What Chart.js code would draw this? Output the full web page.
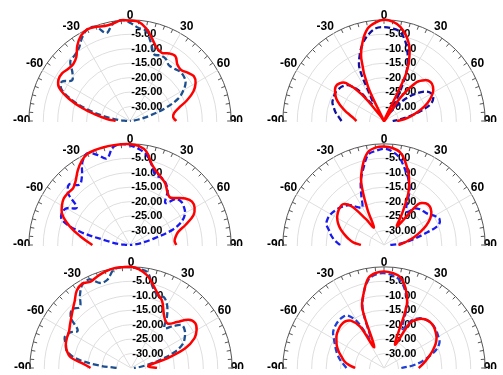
<!DOCTYPE html>
<html>
<head>
<meta charset="utf-8">
<script src="https://cdn.jsdelivr.net/npm/chart.js@4.4.1/dist/chart.umd.min.js"></script>
<style>
body { margin: 0; background: #fff; width: 503px; height: 375px; overflow: hidden; position: relative; }
.panel { position: absolute; overflow: hidden; }
.panel canvas { position: absolute; }
</style>
</head>
<body>
<div class="panel" id="p1"><canvas width="234" height="234"></canvas></div>
<div class="panel" id="p2"><canvas width="234" height="234"></canvas></div>
<div class="panel" id="p3"><canvas width="234" height="234"></canvas></div>
<div class="panel" id="p4"><canvas width="234" height="234"></canvas></div>
<div class="panel" id="p5"><canvas width="234" height="234"></canvas></div>
<div class="panel" id="p6"><canvas width="234" height="234"></canvas></div>
<script>
// angles in degrees, -90 .. 90 every 5
const angles = [-90,-85,-80,-75,-70,-65,-60,-55,-50,-45,-40,-35,-30,-25,-20,-15,-10,-5,0,5,10,15,20,25,30,35,40,45,50,55,60,65,70,75,80,85,90];
const angleLabels = [-90, -60, -30, 0, 30, 60, 90];
const radialMin = -35;
const radialMax = 0;

// values in dB
const p1Red  = [-30,-27,-23.3,-18,-12.5,-8,-6.4,-6.3,-7,-7.2,-6.1,-3.2,-1,0,-0.3,-1,-0.8,0,-0.3,-0.6,-2.5,-5.5,-8,-9,-8,-7.6,-9.5,-10,-9,-8,-8.8,-10.8,-14,-17.5,-19.5,-20,-19];
const p1Blue = [-34,-31,-26.5,-20,-13.5,-8.8,-7.8,-10.5,-9,-5.8,-5.3,-4.2,-1.8,0,-0.3,-3.5,-0.8,0,-1,-2.6,-3.3,-7,-10.5,-10,-10.2,-11.5,-11.3,-10.7,-10.8,-11.5,-13.6,-16.5,-22,-28,-32,-34,-35];
const p2Red  = [-25.5,-24.5,-23,-21,-18.8,-16.8,-15.5,-14.5,-14.8,-16.5,-23,-33,-35,-22,-12,-6.5,-2.5,-0.8,0,-0.5,-2,-4.8,-9,-17,-35,-25,-17.5,-15,-14,-14.3,-15.5,-17.5,-20,-23,-25.5,-28,-30.5];
const p2Blue = [-20.3,-19.3,-18,-17,-16,-15.8,-15.5,-15.8,-16.3,-17.5,-21,-28,-27,-15,-10.5,-7,-4.5,-2.8,-2.5,-2.8,-3.6,-6.5,-11,-17,-26,-31,-28,-23.5,-20,-17.2,-16,-16.2,-17.8,-22,-26.5,-30,-32];
const p3Red  = [-22,-20,-17.5,-14.5,-11.5,-9,-7.8,-7,-7,-7.2,-5.8,-3.5,-1.5,-0.2,0,0,0,0,-0.1,-0.6,-2.2,-6,-8,-9.3,-10.5,-12.5,-13.5,-12,-10,-8.8,-9.2,-10.8,-14.5,-17.8,-19,-19.5,-19];
const p3Blue = [-34,-31,-27,-17,-10,-8.9,-9.6,-12.5,-7,-5.3,-7.8,-6,-2,0,-1.8,-4,-0.7,0,-0.5,-1.6,-3.1,-6.2,-9.3,-9.3,-10.3,-12.3,-16,-12.5,-11.8,-12.2,-13,-15,-19,-26.5,-31,-33.5,-35];
const p4Red  = [-27,-24.3,-22.5,-20.8,-19,-17.5,-16.3,-15.5,-15,-15,-17.5,-24,-28,-21.5,-12,-6.5,-2.5,-1.2,-0.9,-1.3,-2.5,-5.8,-9.8,-15,-22.5,-27,-16.5,-14.6,-14.3,-15,-16.5,-18.8,-21.5,-24,-26.5,-28.5,-30];
const p4Blue = [-19.8,-18,-16.5,-15.3,-13.8,-13.5,-13.7,-14.3,-15,-15.8,-17,-19,-20,-16.5,-11.5,-7.5,-3.3,-2.3,-1.7,-2.5,-4.3,-7.5,-10.5,-14,-19.5,-21,-18.5,-17.5,-17,-16.3,-14.8,-13.8,-15,-21,-25.5,-29,-33];
const p5Red  = [-21,-18.5,-13.8,-12,-11,-10.5,-10.2,-9.2,-8,-6.5,-4.7,-2.3,-1.3,-2,-1.2,-0.5,0,0,0,-0.8,-2.5,-5.3,-7.8,-9.5,-12.5,-14.5,-15,-12.5,-9,-7.9,-8.8,-10.8,-15,-22,-28,-29,-26];
const p5Blue = [-30,-23,-15.5,-12,-11,-9.7,-10.5,-12.5,-7.8,-6.2,-7.5,-4.2,-1.5,-1.2,-3.7,-3.4,-0.5,0,-0.2,-0.6,-1.5,-6,-8.2,-8,-10,-13.3,-17,-14.5,-12,-12.3,-13.5,-15.2,-19,-25,-30,-32.5,-34];
const p6Red  = [-25,-22.8,-21,-19.8,-18.3,-17,-16,-15,-14.4,-14,-14,-15,-18.5,-27,-13,-8,-3.5,-2,-1.6,-2,-3,-6.3,-12,-26,-17,-14.4,-13,-12.5,-12.6,-13.2,-14,-15.3,-17,-18.7,-20.3,-21.7,-23];
const p6Blue = [-22,-21,-19.7,-18.5,-17.4,-16.3,-15,-13.5,-12.8,-12.4,-12.3,-12.8,-16.5,-24,-13.5,-8,-4,-2.5,-2.2,-2.8,-4,-7,-11.5,-20,-16,-14,-13,-12.5,-12.5,-12.8,-13.3,-13.8,-15.5,-18.5,-21.5,-25,-29];

const fontFamily = "'Liberation Sans', Arial, sans-serif";
const meas = document.createElement('canvas').getContext('2d');
meas.font = 'bold 11px ' + fontFamily;

// radar labels run round the full circle in 5 degree steps, top = 0, clockwise
let labels = [];
for (let i = 0; i < 72; i++) {
	let a = i * 5;
	if (a > 180) a -= 360;
	labels.push(String(a));
}

function fullCircle(values) {
	return labels.map(function (l) {
		let k = angles.indexOf(Number(l));
		return k < 0 ? null : values[k];
	});
}

function shiftRight(s) {
	// radial tick text is centred on the axis; lead with spaces so it starts just right of it
	let w = meas.measureText(s).width;
	let sp = meas.measureText(' ').width;
	return ' '.repeat(Math.round((w + 2) / sp)) + s;
}

function isUpper(i) {
	let a = Number(labels[i]);
	return a >= -90 && a <= 90;
}

function isMajor(i) {
	let a = Math.abs(Number(labels[i]));
	return a === 30 || a === 60;
}

function labelPadding(i) {
	let a = Number(labels[i]);
	if (angleLabels.indexOf(a) < 0) return -14;
	if (a === 0) return -8.5;
	if (Math.abs(a) === 90) return -7;
	return -6.5;
}

function createPolar(id, cx, cy, red, blue, blueColor) {
	let box = document.getElementById(id);
	let left = cx < 253 ? 0 : 253;
	box.style.left = left + 'px';
	box.style.width = (cx < 253 ? 253 : 250) + 'px';
	box.style.top = (cy - 124) + 'px';
	box.style.height = '125px';
	let canvas = box.querySelector('canvas');

	let chart = new Chart(canvas, {
		type: 'radar',
		data: {
			labels: labels,
			datasets: [
				{
					data: fullCircle(red),
					borderColor: '#ff0000',
					borderWidth: 2.5,
					pointRadius: 0,
					fill: false,
					tension: 0.35
				},
				{
					data: fullCircle(blue),
					borderColor: blueColor,
					borderWidth: 2.3,
					borderDash: [6, 3],
					pointRadius: 0,
					fill: false,
					tension: 0.35
				}
			]
		},
		options: {
			responsive: false,
			animation: false,
			devicePixelRatio: 1,
			layout: { padding: 0 },
			plugins: {
				legend: { display: false },
				tooltip: { enabled: false }
			},
			scales: {
				r: {
					min: radialMin,
					max: radialMax,
					startAngle: 0,
					ticks: {
						stepSize: 5,
						showLabelBackdrop: false,
						backdropPadding: 0,
						color: '#000',
						font: { family: fontFamily, size: 11, weight: 'bold' },
						callback: function (v) {
							if (v === radialMin || v === radialMax) return '';
							return shiftRight(v.toFixed(2));
						}
					},
					grid: {
						circular: true,
						lineWidth: 1,
						color: function (c) { return c.index === 7 ? '#555' : '#dedede'; }
					},
					angleLines: {
						lineWidth: 1,
						color: function (c) {
							if (!isUpper(c.index)) return 'rgba(0,0,0,0)';
							return isMajor(c.index) ? '#dedede' : '#555';
						},
						borderDash: function (c) {
							if (isMajor(c.index)) return [];
							let r = c.chart.scales.r.drawingArea;
							return [0, r - 4, 4, 20];
						}
					},
					pointLabels: {
						padding: function (c) { return labelPadding(c.index); },
						color: '#000',
						font: { family: fontFamily, size: 12, weight: 'bold' },
						callback: function (l) {
							return angleLabels.indexOf(Number(l)) >= 0 ? l : '';
						}
					}
				}
			}
		}
	});

	let sc = chart.scales.r;
	canvas.style.left = (cx - left - sc.xCenter) + 'px';
	canvas.style.top = (124 - sc.yCenter) + 'px';
	return chart;
}

createPolar('p1', 130, 121, p1Red, p1Blue, '#1d4f8f');
createPolar('p2', 384, 121, p2Red, p2Blue, '#10109c');
createPolar('p3', 130, 245, p3Red, p3Blue, '#1818f0');
createPolar('p4', 384, 245, p4Red, p4Blue, '#1a1aec');
createPolar('p5', 131, 368, p5Red, p5Blue, '#1d4f8f');
createPolar('p6', 384, 368, p6Red, p6Blue, '#1f3fd6');
</script>
</body>
</html>
